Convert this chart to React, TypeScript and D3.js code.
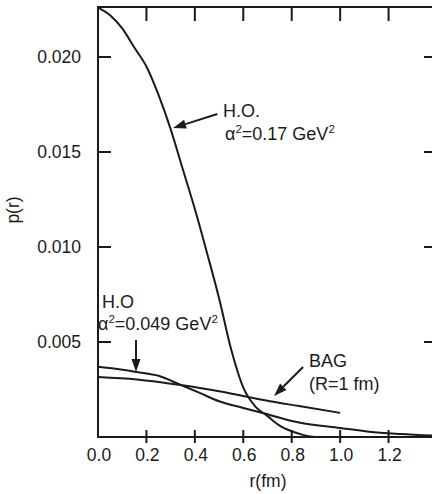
import React from 'react';
import * as d3 from 'd3';

// H.O. alpha^2 = 0.17 GeV^2
const hoWideR = [0, 0.05, 0.1, 0.15, 0.2, 0.25, 0.3, 0.35, 0.4, 0.45, 0.5, 0.55, 0.6, 0.65, 0.7, 0.75, 0.8, 0.85, 0.9];
const hoWideP = [0.0226, 0.0222, 0.0215, 0.0205, 0.0195, 0.018, 0.0162, 0.0141, 0.012, 0.0097, 0.0073, 0.0046, 0.0026, 0.0016, 0.0011, 0.0006, 0.0003, 0.0001, 0];

// H.O alpha^2 = 0.049 GeV^2
const hoNarrowR = [0, 0.08, 0.16, 0.25, 0.34, 0.42, 0.5, 0.6, 0.68, 0.83, 1.0, 1.12, 1.25, 1.4];
const hoNarrowP = [0.0037, 0.00358, 0.00342, 0.00322, 0.00275, 0.00232, 0.00188, 0.00153, 0.00126, 0.00076, 0.00047, 0.00028, 0.00016, 0.00006];

// BAG (R = 1 fm)
const bagR = [0, 0.16, 0.34, 0.5, 0.62, 0.71, 0.83, 1.0];
const bagP = [0.00316, 0.00303, 0.00274, 0.00241, 0.0021, 0.00188, 0.00163, 0.00127];

const xTicks = [0.0, 0.2, 0.4, 0.6, 0.8, 1.0, 1.2];
const yTicks = [0.005, 0.01, 0.015, 0.02];

const W = 432;
const H = 494;
const font = '"Liberation Sans", Arial, sans-serif';
const ink = '#1b1b1b';

const x = d3.scaleLinear().domain([0, 1.4]).range([98, 437]);
const y = d3.scaleLinear().domain([0, 0.02263]).range([437, 7]);

const line = d3.line<[number, number]>()
  .x(d => x(d[0]))
  .y(d => y(d[1]))
  .curve(d3.curveMonotoneX);

const zip = (rs: number[], ps: number[]) => rs.map((r, i) => [r, ps[i]] as [number, number]);

function Arrow({ from, to }: { from: [number, number]; to: [number, number] }) {
  const x1 = x(from[0]), y1 = y(from[1]);
  const x2 = x(to[0]), y2 = y(to[1]);
  const a = Math.atan2(y2 - y1, x2 - x1);
  const len = 13, half = 4.5;
  const bx = x2 - len * Math.cos(a), by = y2 - len * Math.sin(a);
  const p1 = [bx + half * Math.sin(a), by - half * Math.cos(a)];
  const p2 = [bx - half * Math.sin(a), by + half * Math.cos(a)];
  return (
    <g>
      <line x1={x1} y1={y1} x2={bx} y2={by} stroke={ink} strokeWidth={2} />
      <path d={`M${x2},${y2}L${p1[0]},${p1[1]}L${p2[0]},${p2[1]}Z`} fill={ink} />
    </g>
  );
}

function Alpha({ px, py, value }: { px: number; py: number; value: string }) {
  return (
    <text x={px} y={py} fontSize={18} fill={ink}>
      <tspan>α</tspan>
      <tspan dy={-7} fontSize={11.5}>2</tspan>
      <tspan dy={7}>{`=${value} GeV`}</tspan>
      <tspan dy={-7} fontSize={11.5}>2</tspan>
    </text>
  );
}

export default function App() {
  return (
    <svg width={W} height={H} style={{ position: 'absolute', left: 0, top: 0, background: '#fff' }} fontFamily={font}>
      {/* frame */}
      <rect x={x(0)} y={y.range()[1]} width={x(1.4) - x(0)} height={y(0) - y.range()[1]} fill="none" stroke={ink} strokeWidth={2} />

      {/* x ticks: bottom crosses axis, top inward */}
      {xTicks.filter(t => t > 0).map(t => (
        <g key={`xt${t}`}>
          <line x1={x(t)} x2={x(t)} y1={y(0) - 7} y2={y(0) + 6} stroke={ink} strokeWidth={2} />
          <line x1={x(t)} x2={x(t)} y1={y.range()[1]} y2={y.range()[1] + 14} stroke={ink} strokeWidth={2} />
        </g>
      ))}
      {xTicks.map(t => (
        <text key={`xl${t}`} x={x(t) + 1} y={461} textAnchor="middle" fontSize={17.5} fill={ink}>{t.toFixed(1)}</text>
      ))}

      {/* y ticks: left and right inward */}
      {yTicks.map(t => (
        <g key={`yt${t}`}>
          <line x1={x(0)} x2={x(0) + 13} y1={y(t)} y2={y(t)} stroke={ink} strokeWidth={2} />
          <line x1={x(1.4) - 13} x2={x(1.4)} y1={y(t)} y2={y(t)} stroke={ink} strokeWidth={2} />
          <text x={81} y={y(t) + 6} textAnchor="end" fontSize={17.5} fill={ink}>{t.toFixed(3)}</text>
        </g>
      ))}

      <text transform="translate(19,210) rotate(-90)" textAnchor="middle" fontSize={17.5} fill={ink}>p(r)</text>
      <text x={268} y={487} textAnchor="middle" fontSize={17.5} fill={ink}>r(fm)</text>

      {/* curves */}
      <g fill="none" stroke={ink} strokeWidth={2}>
        <path d={line(zip(hoWideR, hoWideP)) || ''} />
        <path d={line(zip(hoNarrowR, hoNarrowP)) || ''} />
        <path d={line(zip(bagR, bagP)) || ''} />
      </g>

      {/* annotations */}
      <Arrow from={[0.493, 0.017]} to={[0.31, 0.01626]} />
      <text x={223} y={117} fontSize={18} fill={ink}>H.O.</text>
      <Alpha px={225} py={140} value="0.17" />

      <Arrow from={[0.157, 0.0051]} to={[0.157, 0.00342]} />
      <text x={102} y={308} fontSize={18} fill={ink}>H.O</text>
      <Alpha px={98} py={330} value="0.049" />

      <Arrow from={[0.847, 0.00368]} to={[0.727, 0.00216]} />
      <text x={309} y={367} fontSize={18} fill={ink}>BAG</text>
      <text x={309} y={390} fontSize={18} fill={ink}>(R=1 fm)</text>
    </svg>
  );
}
